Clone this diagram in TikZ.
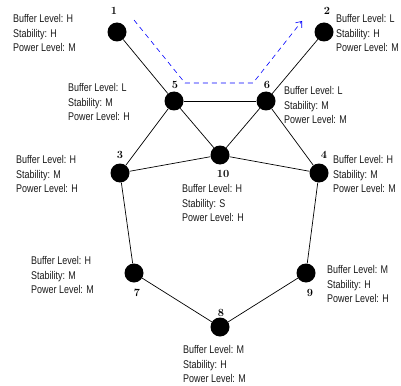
\documentclass[tikz,border=0pt]{standalone}
\usepackage{fontspec}
\newfontfamily\lab{Liberation Sans}[FakeStretch=0.8]
\usetikzlibrary{arrows.meta}
\begin{document}
\begin{tikzpicture}[x=1pt,y=-1pt,
  vert/.style={circle,fill=black,minimum size=19pt,inner sep=0pt},
  num/.style={inner sep=0pt,font=\bfseries\fontsize{11}{12}\selectfont},
  info/.style={inner sep=0pt,anchor=west,align=left,font=\lab\fontsize{11.2}{14.3}\selectfont,text=black!90},
  edge/.style={draw=black,line width=0.7pt},
  route/.style={draw=blue,dashed,line width=0.6pt,dash pattern=on 5pt off 4pt,-{Straight Barb[length=5pt,width=8pt]}}]
\useasboundingbox (0,0) rectangle (401,385);
% vertices
\node[vert] (n1) at (117,32) {};
\node[vert] (n2) at (324,32) {};
\node[vert] (n5) at (174,101) {};
\node[vert] (n6) at (266,101) {};
\node[vert] (n3) at (120,173) {};
\node[vert] (n10) at (220,155) {};
\node[vert] (n4) at (319,173) {};
\node[vert] (n7) at (134,273) {};
\node[vert] (n9) at (306,273) {};
\node[vert] (n8) at (220,327) {};
% edges
\draw[edge] (n1) -- (n5);
\draw[edge] (n2) -- (n6);
\draw[edge] (n5) -- (n6);
\draw[edge] (n5) -- (n3);
\draw[edge] (n5) -- (n10);
\draw[edge] (n6) -- (n10);
\draw[edge] (n6) -- (n4);
\draw[edge] (n3) -- (n10);
\draw[edge] (n10) -- (n4);
\draw[edge] (n3) -- (n7);
\draw[edge] (n4) -- (n9);
\draw[edge] (n7) -- (n8);
\draw[edge] (n8) -- (n9);
% dashed route
\coordinate (r0) at (134,20);
\coordinate (r1) at (185,83);
\coordinate (r2) at (253,83);
\coordinate (r3) at (302,21);
\draw[route] (r0) -- (r1) -- (r2) -- (r3);
% numbers
\node[num] (l1) at (114,11) {1};
\node[num] (l2) at (327,11) {2};
\node[num] (l3) at (120,155) {3};
\node[num] (l4) at (324,155) {4};
\node[num] (l5) at (175,85) {5};
\node[num] (l6) at (267,85) {6};
\node[num] (l7) at (137,293) {7};
\node[num] (l8) at (221,313) {8};
\node[num] (l9) at (310,293) {9};
\node[num] (l10) at (223,174) {10};
% info labels
\node[info] (t1) at (13,33) {Buffer Level: H\\Stability: H\\Power Level: M};
\node[info] (t2) at (336,33) {Buffer Level: L\\Stability: H\\Power Level: M};
\node[info] (t5) at (68,102) {Buffer Level: L\\Stability: M\\Power Level: H};
\node[info] (t6) at (284,105) {Buffer Level: L\\Stability: M\\Power Level: M};
\node[info] (t3) at (16,174) {Buffer Level: H\\Stability: M\\Power Level: H};
\node[info] (t10) at (182,203) {Buffer Level: H\\Stability: S\\Power Level: H};
\node[info] (t4) at (333,174) {Buffer Level: H\\Stability: M\\Power Level: M};
\node[info] (t7) at (31,275) {Buffer Level: H\\Stability: M\\Power Level: M};
\node[info] (t9) at (327,284) {Buffer Level: M\\Stability: H\\Power Level: H};
\node[info] (t8) at (183,364) {Buffer Level: M\\Stability: H\\Power Level: M};
\end{tikzpicture}
\end{document}
